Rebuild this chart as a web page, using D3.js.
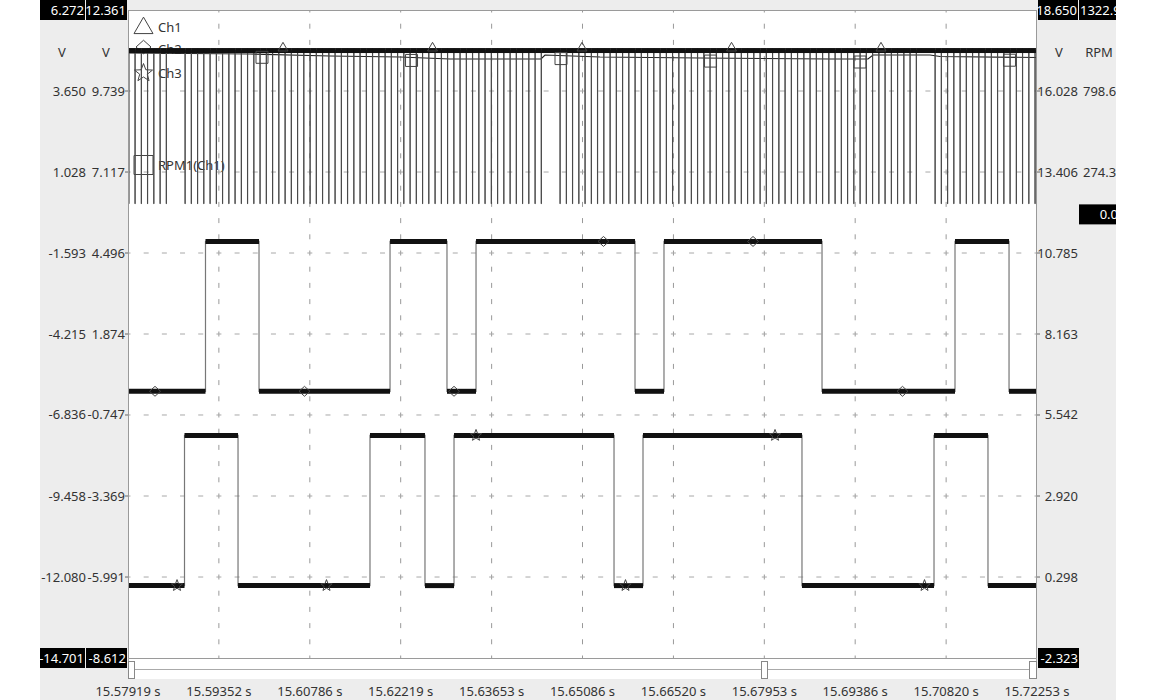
<!DOCTYPE html>
<html><head><meta charset="utf-8">
<script src="https://cdn.jsdelivr.net/npm/d3@7"></script>
<style>
html,body{margin:0;padding:0;background:#fff;}
svg{display:block;font-family:"Noto Sans",sans-serif;}
</style></head><body>
<svg id="c" width="1156" height="700"></svg>
<script>
// ---------------- DATA ----------------
const timeStart = 15.57919, timeEnd = 15.72253;
const timeTickLabels = ["15.57919 s","15.59352 s","15.60786 s","15.62219 s","15.63653 s","15.65086 s",
  "15.66520 s","15.67953 s","15.69386 s","15.70820 s","15.72253 s"];

// axis ranges (top value, bottom value)
const ch1Axis = [6.272, -14.701];
const ch2Axis = [12.361, -8.612];
const ch3Axis = [18.650, -2.323];
const rpmAxis = [1322.9, -2871.5];

const ch1Ticks = [3.650, 1.028, -1.593, -4.215, -6.836, -9.458, -12.080];
const ch2Ticks = [9.739, 7.117, 4.496, 1.874, -0.747, -3.369, -5.991];
const ch3Ticks = [16.028, 13.406, 10.785, 8.163, 5.542, 2.920, 0.298];
const rpmTicks = [798.6, 274.3];

// Ch1: crank-wheel teeth (falling-edge times, s), 60-2 pattern
const ch1Teeth = [15.57931,15.58029,15.58128,15.58226,15.58325,15.58424,15.58522,
  15.58818,15.58916,15.59015,15.59113,15.59212,15.59311,15.59409,15.59508,15.59606,15.59705,15.59803,
  15.59902,15.60000,15.60099,15.60198,15.60296,15.60395,15.60493,15.60592,15.60690,15.60789,
  15.60887,15.60986,15.61085,15.61183,15.61282,15.61380,15.61479,15.61577,15.61676,15.61774,
  15.61873,15.61972,15.62070,15.62169,15.62267,15.62366,15.62464,15.62563,15.62661,15.62760,
  15.62859,15.62957,15.63056,15.63154,15.63253,15.63351,15.63450,15.63548,15.63647,15.63746,
  15.63844,15.63943,15.64041,15.64140,15.64238,15.64337,15.64435,
  15.64731,15.64830,15.64928,15.65027,15.65125,15.65224,15.65322,15.65421,15.65520,15.65618,15.65717,
  15.65815,15.65914,15.66012,15.66111,15.66209,15.66308,15.66407,15.66505,15.66604,15.66702,
  15.66801,15.66899,15.66998,15.67096,15.67195,15.67294,15.67392,15.67491,15.67589,15.67688,
  15.67786,15.67885,15.67983,15.68082,15.68181,15.68279,15.68378,15.68476,15.68575,15.68673,
  15.68772,15.68871,15.68969,15.69068,15.69166,15.69265,15.69363,15.69462,15.69560,15.69659,
  15.69758,15.69856,15.69955,15.70053,15.70152,15.70250,15.70349,
  15.70645,15.70743,15.70842,15.70940,15.71039,15.71137,15.71236,15.71334,15.71433,15.71532,15.71630,
  15.71729,15.71827,15.71926,15.72024,15.72123,15.72221];
const ch1High = 4.96, ch1Low = 0.0, ch1ToothWidth = 0.00003;

// Ch2 / Ch3 step signals: change times and levels (V)
const ch2Times  = [15.57919,15.59141,15.59985,15.62051,15.62949,15.63407,15.65914,15.66371,15.68863,15.70960,15.71812];
const ch2Values = [0.02,4.87,0.02,4.87,0.02,4.87,0.02,4.87,0.02,4.87,0.02];
const ch3Times  = [15.57919,15.58810,15.59654,15.61735,15.62602,15.63060,15.65583,15.66040,15.68547,15.70629,15.71480];
const ch3Values = [0.02,4.88,0.02,4.88,0.02,4.88,0.02,4.88,0.02,4.88,0.02];

// RPM1(Ch1)
const rpmTimes  = [15.57919,15.59843,15.61104,15.62208,15.62997,15.64432,15.64495,15.65362,15.66939,15.68989,15.69588,15.69667,15.70566,15.70723,15.72253];
const rpmValues = [1044.6,1038.1,1025.2,1018.7,1005.7,1005.7,1031.6,1018.7,1012.2,1005.7,1005.7,1031.6,1031.6,1022.0,1015.5];

// marker times
const ch1MarkerTimes = [15.60363,15.62721,15.65078,15.67436,15.69793];
const ch2MarkerTimes = [15.58345,15.60702,15.63060,15.65417,15.67775,15.70132];
const ch3MarkerTimes = [15.58692,15.61049,15.63407,15.65764,15.68122,15.70479];
const rpmMarkerTimes = [15.60032,15.62390,15.64747,15.67105,15.69462,15.71819];

const legendItems = [
  {name:"Ch1", shape:"triangle"},
  {name:"Ch2", shape:"diamond"},
  {name:"Ch3", shape:"star"},
  {name:"RPM1(Ch1)", shape:"square"}
];

// ---------------- LAYOUT ----------------
const W = 1156, H = 700;
const L = 128, R = 1037, T = 10, B = 658;
const P0 = 40, P1 = 1116;
const TXT = "#333";

const svg = d3.select("#c");
const defs = svg.append("defs");
defs.append("clipPath").attr("id","panel").append("rect")
  .attr("x",P0).attr("y",0).attr("width",P1-P0).attr("height",H);
defs.append("clipPath").attr("id","plot").append("rect")
  .attr("x",L).attr("y",T).attr("width",R-L).attr("height",B-T);

const root = svg.append("g").attr("clip-path","url(#panel)");
root.append("rect").attr("x",P0).attr("y",0).attr("width",P1-P0).attr("height",H).attr("fill","#ededed");
root.append("rect").attr("x",L).attr("y",T).attr("width",R-L).attr("height",B-T).attr("fill","#fff");
root.append("rect").attr("x",L).attr("y",B).attr("width",R-L).attr("height",21).attr("fill","#fff");

const x = d3.scaleLinear().domain([timeStart,timeEnd]).range([L,R]);
const y1 = d3.scaleLinear().domain(ch1Axis).range([T,B]);
const y2 = d3.scaleLinear().domain(ch2Axis).range([T,B]);
const y3 = d3.scaleLinear().domain(ch3Axis).range([T,B]);
const yr = d3.scaleLinear().domain(rpmAxis).range([T,B]);

// ---------------- GRID ----------------
const minorX = (R-L)/50, minorY = (B-T)/40;
const grid = root.append("g");
const tickTimes = timeTickLabels.map(s => parseFloat(s));
tickTimes.slice(1,-1).forEach(t => {
  grid.append("line").attr("x1",x(t)).attr("x2",x(t)).attr("y1",T).attr("y2",B)
    .attr("stroke","#999").attr("stroke-dasharray",`5,${minorY-5}`).attr("stroke-dashoffset",2.5);
});
ch1Ticks.forEach(v => {
  grid.append("line").attr("x1",L).attr("x2",R).attr("y1",y1(v)).attr("y2",y1(v))
    .attr("stroke","#a8a8a8").attr("stroke-dasharray",`5,${minorX-5}`).attr("stroke-dashoffset",2.5);
});

// ---------------- SYMBOLS ----------------
function symPath(shape, cx, cy, s) {
  if (shape === "triangle") {
    const h = s*0.866;
    return `M${cx},${cy-h*0.6}L${cx+s/2},${cy+h*0.4}L${cx-s/2},${cy+h*0.4}Z`;
  }
  if (shape === "diamond") {
    return `M${cx},${cy-s*0.45}L${cx+s/2},${cy}L${cx},${cy+s*0.45}L${cx-s/2},${cy}Z`;
  }
  if (shape === "square") {
    return `M${cx-s/2},${cy-s/2}h${s}v${s}h${-s}Z`;
  }
  let p = "";
  for (let i=0;i<10;i++){
    const r = i%2===0 ? s/2 : s/2*0.42;
    const a = -Math.PI/2 + i*Math.PI/5;
    p += (i?"L":"M") + (cx + r*Math.cos(a)) + "," + (cy + r*Math.sin(a));
  }
  return p + "Z";
}

// ---------------- LEGEND ----------------
const legendY = [27, 47, 73, 165];
const leg = root.append("g");
legendItems.forEach((d,i) => {
  const cy = legendY[i];
  leg.append("path").attr("d", symPath(d.shape, 143.5, cy, d.shape==="diamond"?15:19))
    .attr("fill","none").attr("stroke","#444").attr("stroke-width",1);
  leg.append("text").attr("x",158).attr("y",cy + (i===1?7:4.5)).attr("font-size",13).attr("fill",TXT).text(d.name);
});

// ---------------- TRACES ----------------
const plot = root.append("g").attr("clip-path","url(#plot)");

function stepPoints(times, values) {
  const pts = times.map((t,i) => [t, values[i]]);
  pts.push([timeEnd, values[values.length-1]]);
  return pts;
}
function plateaus(times, values) {
  return times.map((t,i) => ({t0:t, t1: i<times.length-1 ? times[i+1] : timeEnd, v: values[i]}));
}
function drawStep(times, values, ys, bandW) {
  const g = plot.append("g");
  g.append("path").datum(stepPoints(times, values))
    .attr("d", d3.line().x(d => x(d[0])).y(d => ys(d[1])).curve(d3.curveStepAfter))
    .attr("fill","none").attr("stroke","#777").attr("stroke-width",1.2);
  g.selectAll("line.band").data(plateaus(times, values)).join("line")
    .attr("x1", d => x(d.t0)).attr("x2", d => x(d.t1))
    .attr("y1", d => ys(d.v)).attr("y2", d => ys(d.v))
    .attr("stroke","#111").attr("stroke-width",bandW);
}

drawStep(ch3Times, ch3Values, y3, 5);
drawStep(ch2Times, ch2Values, y2, 5);

// RPM line
const rpmInterp = d3.scaleLinear().domain(rpmTimes).range(rpmValues);
plot.append("path").datum(rpmTimes.map((t,i) => [t, rpmValues[i]]))
  .attr("d", d3.line().x(d => x(d[0])).y(d => yr(d[1])))
  .attr("fill","none").attr("stroke","#222").attr("stroke-width",1.2);

// Ch1 built from teeth
const ch1T = [timeStart], ch1V = [ch1High];
ch1Teeth.forEach(t => { ch1T.push(t, t + ch1ToothWidth); ch1V.push(ch1Low, ch1High); });
plot.append("path").datum(stepPoints(ch1T, ch1V))
  .attr("d", d3.line().x(d => x(d[0])).y(d => y1(d[1])).curve(d3.curveStepAfter))
  .attr("fill","none").attr("stroke","#4a4a4a").attr("stroke-width",1);
plot.selectAll("line.c1band").data(plateaus(ch1T, ch1V).filter(d => d.v === ch1High)).join("line")
  .attr("x1", d => x(d.t0)).attr("x2", d => x(d.t1) + 0.6)
  .attr("y1", d => y1(d.v)).attr("y2", d => y1(d.v))
  .attr("stroke","#111").attr("stroke-width",5);

// markers
function stepValue(times, values, t) {
  const i = Math.max(0, d3.bisectRight(times, t) - 1);
  return values[i];
}
const mk = plot.append("g");
ch1MarkerTimes.forEach(t => mk.append("path").attr("d", symPath("triangle", x(t), y1(ch1High)-3, 10))
  .attr("fill","none").attr("stroke","#444"));
ch2MarkerTimes.forEach(t => mk.append("path").attr("d", symPath("diamond", x(t), y2(stepValue(ch2Times, ch2Values, t)), 11))
  .attr("fill","none").attr("stroke","#444"));
ch3MarkerTimes.forEach(t => mk.append("path").attr("d", symPath("star", x(t), y3(stepValue(ch3Times, ch3Values, t)), 12))
  .attr("fill","none").attr("stroke","#444"));
rpmMarkerTimes.forEach(t => mk.append("path").attr("d", symPath("square", x(t), yr(rpmInterp(t))+3, 12))
  .attr("fill","none").attr("stroke","#444"));

// ---------------- BORDERS ----------------
root.append("rect").attr("x",L+0.5).attr("y",T+0.5).attr("width",R-L-1).attr("height",B-T)
  .attr("fill","none").attr("stroke","#9a9a9a");
root.append("line").attr("x1",L).attr("x2",R).attr("y1",669.5).attr("y2",669.5).attr("stroke","#aaa");
root.append("line").attr("x1",L+0.5).attr("x2",L+0.5).attr("y1",B).attr("y2",679).attr("stroke","#aaa");
root.append("line").attr("x1",R-0.5).attr("x2",R-0.5).attr("y1",B).attr("y2",679).attr("stroke","#aaa");
[[L+0.5,6],[761.5,6],[R-7.5,7]].forEach(([hx,hw]) => {
  root.append("rect").attr("x",hx).attr("y",661.5).attr("width",hw).attr("height",17)
    .attr("fill","#fff").attr("stroke","#888");
});

// ---------------- AXES TEXT ----------------
const ax = root.append("g").attr("font-size",13).attr("fill",TXT);
tickTimes.forEach((t,i) => {
  ax.append("text").attr("x",x(t)).attr("y",696).attr("text-anchor","middle").text(timeTickLabels[i]);
});
ch1Ticks.forEach(v => ax.append("text").attr("x",86).attr("y",y1(v)+4.5).attr("text-anchor","end").text(v.toFixed(3)));
ch2Ticks.forEach(v => {
  ax.append("text").attr("x",125).attr("y",y2(v)+4.5).attr("text-anchor","end").text(v.toFixed(3));
  root.append("line").attr("x1",125).attr("x2",L).attr("y1",y2(v)).attr("y2",y2(v)).attr("stroke","#666");
});
ch3Ticks.forEach(v => {
  ax.append("text").attr("x",1078).attr("y",y3(v)+4.5).attr("text-anchor","end").text(v.toFixed(3));
  root.append("line").attr("x1",R).attr("x2",R+3).attr("y1",y3(v)).attr("y2",y3(v)).attr("stroke","#666");
});
rpmTicks.forEach(v => ax.append("text").attr("x",1083).attr("y",yr(v)+4.5).attr("text-anchor","start").text(v.toFixed(1)));

ax.append("text").attr("x",62).attr("y",57).attr("text-anchor","middle").text("V");
ax.append("text").attr("x",106).attr("y",57).attr("text-anchor","middle").text("V");
ax.append("text").attr("x",1059).attr("y",57).attr("text-anchor","middle").text("V");
ax.append("text").attr("x",1099).attr("y",57).attr("text-anchor","middle").text("RPM");

// black value boxes
function box(x0, x1, yc, label, anchor, tx) {
  root.append("rect").attr("x",x0).attr("y",yc-10).attr("width",x1-x0).attr("height",20).attr("fill","#000");
  root.append("text").attr("x",tx).attr("y",yc+4.5).attr("text-anchor",anchor)
    .attr("font-size",13).attr("fill","#fff").text(label);
}
box(40, 85, y1(ch1Axis[0]), ch1Axis[0].toFixed(3), "end", 84);
box(86, 127, y2(ch2Axis[0]), ch2Axis[0].toFixed(3), "end", 126);
box(40, 85, y1(ch1Axis[1]), ch1Axis[1].toFixed(3), "end", 84);
box(86, 127, y2(ch2Axis[1]), ch2Axis[1].toFixed(3), "end", 126);
box(1038, 1078, y3(ch3Axis[0]), ch3Axis[0].toFixed(3), "end", 1077);
box(1079, 1125, yr(rpmAxis[0]), rpmAxis[0].toFixed(1), "start", 1080);
box(1038, 1079, y3(ch3Axis[1]), ch3Axis[1].toFixed(3), "end", 1078);
box(1079, 1125, yr(0), (0).toFixed(1), "end", 1118);
</script>
</body></html>
